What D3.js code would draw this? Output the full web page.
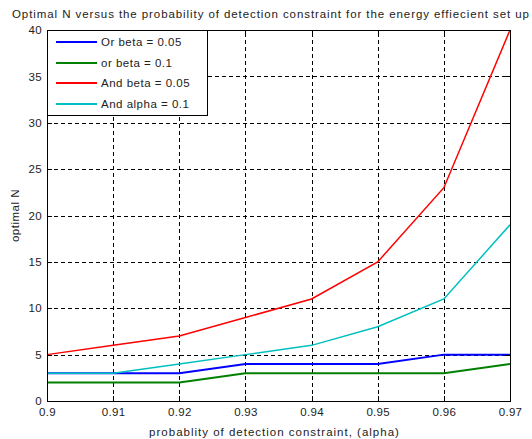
<!DOCTYPE html>
<html>
<head>
<meta charset="utf-8">
<script src="https://cdn.jsdelivr.net/npm/d3@7"></script>
<style>
  html, body { margin: 0; padding: 0; background: #fff; }
  svg { display: block; font-family: "Liberation Sans", Arial, sans-serif; }
</style>
</head>
<body>
<svg id="chart" width="532" height="439"></svg>
<script>
// Detection-probability constraint (alpha) on the x axis
const alphaValues = [0.90, 0.91, 0.92, 0.93, 0.94, 0.95, 0.96, 0.97];

// Optimal number of sensors N for each fusion rule / setting
const orBeta005  = [3, 3, 3, 4, 4, 4, 5, 5];
const orBeta01   = [2, 2, 2, 3, 3, 3, 3, 4];
const andBeta005 = [5, 6, 7, 9, 11, 15, 23, 40];
const andAlpha01 = [3, 3, 4, 5, 6, 8, 11, 19];

const seriesNames  = ["Or beta = 0.05", "or beta = 0.1", "And beta = 0.05", "And alpha = 0.1"];
const seriesColors = ["#0000ff", "#008000", "#ff0000", "#00bfbf"];
const seriesWidths = [2, 2, 1.5, 1.5];

const xTicks = [0.90, 0.91, 0.92, 0.93, 0.94, 0.95, 0.96, 0.97];
const xTickLabels = ["0.9", "0.91", "0.92", "0.93", "0.94", "0.95", "0.96", "0.97"];
const yTicks = [0, 5, 10, 15, 20, 25, 30, 35, 40];

const titleText = "Optimal N versus the probability of detection constraint for the energy effiecient set up";
const xLabelText = "probablity of detection constraint, (alpha)";
const yLabelText = "optimal N";

const series = [orBeta005, orBeta01, andBeta005, andAlpha01].map((vals, i) => ({
  name: seriesNames[i], color: seriesColors[i], width: seriesWidths[i],
  points: vals.map((v, j) => ({ x: alphaValues[j], y: v }))
}));

const svg = d3.select("#chart");
const margin = { left: 47, right: 22, top: 30, bottom: 38 };
const W = 532, H = 439;
const x0 = margin.left, x1 = W - margin.right, y0 = margin.top, y1 = H - margin.bottom;

const x = d3.scaleLinear().domain([0.90, 0.97]).range([x0, x1]);
const y = d3.scaleLinear().domain([0, 40]).range([y1, y0]);

const textColor = "#222";

// title, squeezed to the full figure width
svg.append("text")
  .attr("x", 12).attr("y", 18)
  .attr("font-size", 11.5).attr("letter-spacing", 1).attr("fill", textColor)
  .attr("textLength", 518).attr("lengthAdjust", "spacing")
  .text(titleText);

// grid lines
const grid = svg.append("g").attr("stroke", "#000").attr("stroke-width", 1)
  .attr("stroke-dasharray", "4,3").attr("shape-rendering", "crispEdges");
xTicks.slice(1, -1).forEach(t => {
  grid.append("line").attr("x1", Math.round(x(t)) + 0.5).attr("x2", Math.round(x(t)) + 0.5)
    .attr("y1", y1).attr("y2", y0);
});
yTicks.slice(1, -1).forEach(t => {
  grid.append("line").attr("y1", Math.round(y(t)) + 0.5).attr("y2", Math.round(y(t)) + 0.5)
    .attr("x1", x0).attr("x2", x1);
});

// series lines
const line = d3.line().x(d => x(d.x)).y(d => y(d.y));
const plotArea = svg.append("g");
series.forEach(s => {
  plotArea.append("path")
    .datum(s.points)
    .attr("fill", "none")
    .attr("stroke", s.color)
    .attr("stroke-width", s.width)
    .attr("d", line);
});

// axes (ticks point inward, mirrored on top and right)
const tickLen = 5;
const axisBottom = d3.axisBottom(x).tickValues(xTicks).tickSize(-tickLen).tickPadding(7)
  .tickFormat((d, i) => xTickLabels[i]);
const axisTop = d3.axisTop(x).tickValues(xTicks).tickSize(-tickLen).tickFormat("");
const axisLeft = d3.axisLeft(y).tickValues(yTicks).tickSize(-tickLen).tickPadding(5);
const axisRight = d3.axisRight(y).tickValues(yTicks).tickSize(-tickLen).tickFormat("");

function styleAxis(g) {
  g.select(".domain").remove();
  g.selectAll("line").attr("stroke", "#000").attr("shape-rendering", "crispEdges");
  g.selectAll("text").attr("fill", textColor).attr("font-size", 11.5)
    .attr("letter-spacing", 0.3)
    .attr("font-family", "Liberation Sans, Arial, sans-serif");
}
svg.append("g").attr("transform", `translate(0,${y1})`).call(axisBottom).call(styleAxis);
svg.append("g").attr("transform", `translate(0,${y0})`).call(axisTop).call(styleAxis);
svg.append("g").attr("transform", `translate(${x0},0)`).call(axisLeft).call(styleAxis);
svg.append("g").attr("transform", `translate(${x1},0)`).call(axisRight).call(styleAxis);

// plot frame
svg.append("rect")
  .attr("x", x0 + 0.5).attr("y", y0 + 0.5)
  .attr("width", x1 - x0).attr("height", y1 - y0)
  .attr("fill", "none").attr("stroke", "#000").attr("stroke-width", 1)
  .attr("shape-rendering", "crispEdges");

// axis labels
svg.append("text")
  .attr("x", (x0 + x1) / 2 - 4).attr("y", 436)
  .attr("text-anchor", "middle").attr("font-size", 11.5).attr("letter-spacing", 1)
  .attr("fill", textColor)
  .text(xLabelText);
svg.append("text")
  .attr("transform", `translate(19,${(y0 + y1) / 2}) rotate(-90)`)
  .attr("text-anchor", "middle").attr("font-size", 11.5).attr("letter-spacing", 0.5)
  .attr("fill", textColor)
  .text(yLabelText);

// legend
const legend = svg.append("g").attr("transform", `translate(${x0},${y0})`);
legend.append("rect")
  .attr("x", 0.5).attr("y", 0.5).attr("width", 160).attr("height", 85)
  .attr("fill", "#fff").attr("stroke", "#000").attr("stroke-width", 1)
  .attr("shape-rendering", "crispEdges");
const rowY = [12, 33, 53, 74];
series.forEach((s, i) => {
  legend.append("line")
    .attr("x1", 9).attr("x2", 50).attr("y1", rowY[i]).attr("y2", rowY[i])
    .attr("stroke", s.color).attr("stroke-width", 2);
  legend.append("text")
    .attr("x", 54).attr("y", rowY[i] + 4)
    .attr("font-size", 11.5).attr("letter-spacing", 0.5).attr("fill", textColor)
    .text(s.name);
});
</script>
</body>
</html>
